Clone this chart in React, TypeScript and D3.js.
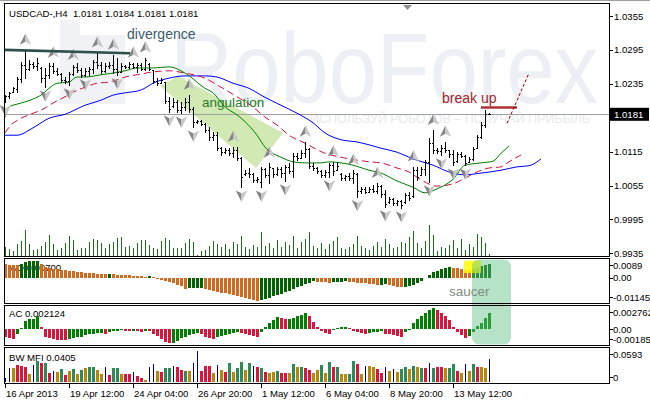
import React from "react";
import * as d3 from "d3";

// ---------- DATA ----------
const timeLabels = ["16 Apr 2013", "19 Apr 12:00", "24 Apr 04:00", "26 Apr 20:00", "1 May 12:00", "6 May 04:00", "8 May 20:00", "13 May 12:00"];
const timeLabelIdx = [0, 16, 32, 48, 64, 80, 96, 112];

const priceTicks = [1.0355, 1.0295, 1.0235, 1.0115, 1.0055, 0.9995, 0.9935];
const lastPrice = 1.0181;

// [open, high, low, close]
const ohlc: number[][] = [
  [1.0205, 1.0215, 1.0203, 1.0213], [1.0213, 1.0220, 1.0210, 1.0218], [1.0220, 1.0229, 1.0220, 1.0227], [1.0226, 1.0247, 1.0220, 1.0244], [1.0244, 1.0274, 1.0238, 1.0268],
  [1.0268, 1.0295, 1.0245, 1.0262], [1.0262, 1.0277, 1.0259, 1.0270], [1.0270, 1.0274, 1.0263, 1.0266], [1.0266, 1.0281, 1.0259, 1.0272], [1.0263, 1.0265, 1.0238, 1.0245],
  [1.0245, 1.0263, 1.0229, 1.0250], [1.0250, 1.0272, 1.0245, 1.0266], [1.0266, 1.0272, 1.0254, 1.0258], [1.0258, 1.0263, 1.0251, 1.0253], [1.0253, 1.0254, 1.0238, 1.0241],
  [1.0241, 1.0247, 1.0236, 1.0240], [1.0240, 1.0256, 1.0233, 1.0252], [1.0252, 1.0268, 1.0251, 1.0265], [1.0265, 1.0272, 1.0256, 1.0260], [1.0260, 1.0263, 1.0247, 1.0250],
  [1.0250, 1.0263, 1.0249, 1.0257], [1.0257, 1.0265, 1.0251, 1.0262], [1.0262, 1.0277, 1.0254, 1.0274], [1.0274, 1.0290, 1.0263, 1.0268], [1.0268, 1.0274, 1.0254, 1.0258],
  [1.0258, 1.0272, 1.0256, 1.0266], [1.0266, 1.0274, 1.0263, 1.0268], [1.0268, 1.0286, 1.0254, 1.0262], [1.0262, 1.0281, 1.0251, 1.0256], [1.0256, 1.0272, 1.0256, 1.0266],
  [1.0266, 1.0268, 1.0263, 1.0265], [1.0265, 1.0274, 1.0263, 1.0270], [1.0270, 1.0272, 1.0263, 1.0265], [1.0265, 1.0272, 1.0256, 1.0268], [1.0268, 1.0272, 1.0259, 1.0262],
  [1.0262, 1.0281, 1.0260, 1.0277], [1.0270, 1.0272, 1.0259, 1.0261], [1.0259, 1.0259, 1.0236, 1.0240], [1.0240, 1.0245, 1.0233, 1.0237], [1.0237, 1.0245, 1.0236, 1.0242],
  [1.0238, 1.0238, 1.0201, 1.0205], [1.0205, 1.0212, 1.0185, 1.0190], [1.0195, 1.0210, 1.0194, 1.0203], [1.0203, 1.0206, 1.0185, 1.0188], [1.0188, 1.0203, 1.0183, 1.0194],
  [1.0194, 1.0210, 1.0189, 1.0203], [1.0203, 1.0215, 1.0185, 1.0190], [1.0190, 1.0194, 1.0158, 1.0168], [1.0168, 1.0171, 1.0166, 1.0170], [1.0170, 1.0171, 1.0162, 1.0164],
  [1.0164, 1.0166, 1.0150, 1.0153], [1.0153, 1.0158, 1.0136, 1.0140], [1.0140, 1.0150, 1.0136, 1.0145], [1.0145, 1.0150, 1.0118, 1.0122], [1.0122, 1.0123, 1.0109, 1.0114],
  [1.0114, 1.0121, 1.0112, 1.0118], [1.0118, 1.0121, 1.0109, 1.0112], [1.0112, 1.0123, 1.0105, 1.0118], [1.0118, 1.0123, 1.0100, 1.0104], [1.0104, 1.0105, 1.0052, 1.0070],
  [1.0076, 1.0082, 1.0074, 1.0078], [1.0078, 1.0086, 1.0070, 1.0075], [1.0075, 1.0077, 1.0061, 1.0064], [1.0064, 1.0070, 1.0061, 1.0066], [1.0062, 1.0088, 1.0052, 1.0084],
  [1.0084, 1.0086, 1.0070, 1.0074], [1.0074, 1.0095, 1.0059, 1.0088], [1.0086, 1.0086, 1.0070, 1.0076], [1.0076, 1.0088, 1.0074, 1.0084], [1.0084, 1.0088, 1.0070, 1.0078],
  [1.0078, 1.0091, 1.0063, 1.0088], [1.0088, 1.0095, 1.0077, 1.0080], [1.0080, 1.0112, 1.0070, 1.0108], [1.0108, 1.0112, 1.0100, 1.0104], [1.0104, 1.0118, 1.0104, 1.0112],
  [1.0112, 1.0132, 1.0105, 1.0120], [1.0120, 1.0121, 1.0086, 1.0090], [1.0090, 1.0095, 1.0082, 1.0086], [1.0086, 1.0088, 1.0077, 1.0080], [1.0080, 1.0082, 1.0070, 1.0073],
  [1.0073, 1.0082, 1.0070, 1.0079], [1.0079, 1.0095, 1.0070, 1.0092], [1.0092, 1.0097, 1.0074, 1.0080], [1.0082, 1.0097, 1.0082, 1.0090], [1.0076, 1.0077, 1.0065, 1.0068],
  [1.0068, 1.0074, 1.0065, 1.0072], [1.0072, 1.0077, 1.0065, 1.0068], [1.0068, 1.0082, 1.0059, 1.0078], [1.0076, 1.0077, 1.0035, 1.0045], [1.0045, 1.0052, 1.0042, 1.0048],
  [1.0048, 1.0052, 1.0042, 1.0044], [1.0044, 1.0052, 1.0043, 1.0049], [1.0049, 1.0056, 1.0043, 1.0046], [1.0046, 1.0059, 1.0042, 1.0055], [1.0055, 1.0056, 1.0035, 1.0040],
  [1.0040, 1.0047, 1.0017, 1.0022], [1.0026, 1.0035, 1.0024, 1.0031], [1.0031, 1.0033, 1.0020, 1.0024], [1.0024, 1.0029, 1.0020, 1.0027], [1.0027, 1.0029, 1.0015, 1.0020],
  [1.0026, 1.0042, 1.0024, 1.0038], [1.0038, 1.0043, 1.0029, 1.0033], [1.0036, 1.0088, 1.0035, 1.0082], [1.0082, 1.0088, 1.0065, 1.0070], [1.0074, 1.0088, 1.0074, 1.0084],
  [1.0084, 1.0100, 1.0074, 1.0096], [1.0096, 1.0139, 1.0061, 1.0130], [1.0130, 1.0153, 1.0112, 1.0118], [1.0118, 1.0121, 1.0112, 1.0116], [1.0116, 1.0127, 1.0109, 1.0122],
  [1.0122, 1.0132, 1.0114, 1.0118], [1.0118, 1.0118, 1.0105, 1.0110], [1.0110, 1.0118, 1.0091, 1.0096], [1.0098, 1.0114, 1.0097, 1.0110], [1.0110, 1.0114, 1.0105, 1.0108],
  [1.0108, 1.0109, 1.0091, 1.0095], [1.0097, 1.0105, 1.0097, 1.0102], [1.0102, 1.0123, 1.0100, 1.0120], [1.0122, 1.0144, 1.0121, 1.0140], [1.0140, 1.0167, 1.0139, 1.0162],
  [1.0162, 1.0189, 1.0158, 1.0181], [1.0181, 1.0184, 1.0181, 1.0181],
];

const volume = [
  930, 700, 500, 1200, 1500, 2600, 1200, 600, 700, 1000,
  1400, 2100, 1200, 600, 800, 1300, 2000, 1600, 600, 800,
  800, 1400, 1700, 1600, 1300, 800, 1200, 1400, 1800, 1900,
  900, 1000, 800, 1300, 1600, 1600, 1100, 800, 700, 1500,
  1800, 1600, 800, 800, 800, 1300, 1700, 1400, 100, 500,
  600, 1000, 1500, 1200, 900, 1200, 700, 1400, 1200, 2000,
  900, 700, 1100, 900, 2400, 1000, 1300, 800, 1600, 900,
  1400, 1100, 2000, 800, 1400, 1700, 2400, 1000, 800, 1300,
  700, 1200, 1500, 1900, 800, 700, 900, 1200, 2000, 1000,
  800, 600, 1000, 1400, 900, 1700, 1200, 800, 900, 1400,
  1300, 1900, 2500, 1300, 800, 1500, 3100, 2100, 500, 900,
  800, 1100, 1600, 800, 1700, 600, 1200, 900, 2200, 1900,
  1300, 200,
];

// Alligator lines: [bar index, price]
const jaw: [number, number][] = [
  [0, 1.0144], [3, 1.0144], [7, 1.0157], [11, 1.0174], [15, 1.0181], [20, 1.0197], [24, 1.0206], [27, 1.0215], [30, 1.0219], [34, 1.0224],
  [37, 1.0236], [41, 1.0245], [45, 1.0249], [50, 1.0249], [53, 1.0247], [57, 1.0236], [61, 1.0227], [65, 1.0211], [69, 1.0197], [73, 1.0183],
  [77, 1.0166], [80, 1.0148], [84, 1.0136], [88, 1.0132], [91, 1.0127], [94, 1.0121], [98, 1.0114], [102, 1.0102], [107, 1.0091], [111, 1.0079],
  [115, 1.0074], [119, 1.0077], [124, 1.0082], [128, 1.0088], [131, 1.0090], [134, 1.0102],
];
const teeth: [number, number][] = [
  [0, 1.0148], [1, 1.0158], [4, 1.0174], [6, 1.0180], [10, 1.0192], [12, 1.0201], [15, 1.0212], [17, 1.0220], [20, 1.0229], [23, 1.0236],
  [26, 1.0238], [28, 1.0242], [30, 1.0247], [33, 1.0251], [37, 1.0256], [41, 1.0258], [45, 1.0254], [50, 1.0245], [54, 1.0229], [58, 1.0212],
  [62, 1.0194], [65, 1.0176], [68, 1.0162], [71, 1.0144], [75, 1.0130], [80, 1.0112], [84, 1.0105], [88, 1.0100], [91, 1.0097], [94, 1.0095],
  [98, 1.0086], [101, 1.0079], [104, 1.0065], [108, 1.0054], [112, 1.0058], [115, 1.0068], [118, 1.0079], [121, 1.0086], [124, 1.0088], [126, 1.0097], [129, 1.0109],
];
const lips: [number, number][] = [
  [0, 1.0176], [1, 1.0194], [3, 1.0199], [5, 1.0203], [7, 1.0208], [9, 1.0215], [11, 1.0227], [13, 1.0236], [16, 1.0238], [18, 1.0247],
  [20, 1.0247], [24, 1.0251], [27, 1.0254], [30, 1.0258], [33, 1.0263], [37, 1.0263], [41, 1.0265], [45, 1.0254], [50, 1.0227], [52, 1.0219],
  [55, 1.0194], [58, 1.0180], [60, 1.0168], [63, 1.0144], [65, 1.0123], [69, 1.0105], [72, 1.0097], [75, 1.0095], [79, 1.0095], [81, 1.0097],
  [84, 1.0095], [87, 1.0091], [91, 1.0082], [94, 1.0077], [98, 1.0063], [102, 1.0052], [105, 1.0042], [108, 1.0049], [112, 1.0066], [115, 1.0091],
  [119, 1.0095], [122, 1.0098], [124, 1.0112], [126, 1.0125],
];

const fractalUp = [5, 12, 17, 23, 27, 32, 35, 46, 57, 66, 75, 82, 87, 93, 102, 107, 110];
const fractalDown = [0, 10, 16, 20, 28, 41, 44, 47, 59, 64, 70, 81, 88, 95, 99, 106, 109, 112, 115];

const ao = [
  0.0070, 0.0068, 0.0066, 0.0065, 0.0072, 0.0079, 0.0084, 0.0088, 0.0089, 0.0072,
  0.0058, 0.0050, 0.0048, 0.0046, 0.0043, 0.0040, 0.0037, 0.0034, 0.0032, 0.0030,
  0.0027, 0.0025, 0.0023, 0.0022, 0.0021, 0.0020, 0.0021, 0.0019, 0.0017, 0.0015,
  0.0014, 0.0013, 0.0012, 0.0011, 0.0009, 0.0007, 0.0008, 0.0003, -0.0003, -0.0008,
  -0.0014, -0.0020, -0.0027, -0.0034, -0.0041, -0.0055, -0.0053, -0.0052, -0.0051, -0.0050,
  -0.0055, -0.0060, -0.0065, -0.0070, -0.0074, -0.0078, -0.0082, -0.0087, -0.0092, -0.0097,
  -0.0103, -0.0108, -0.0112, -0.01145, -0.0112, -0.0106, -0.0100, -0.0094, -0.0088, -0.0080,
  -0.0072, -0.0064, -0.0056, -0.0048, -0.0040, -0.0032, -0.0024, -0.0017, -0.0019, -0.0021,
  -0.0022, -0.0023, -0.0021, -0.0019, -0.0018, -0.0017, -0.0019, -0.0021, -0.0023, -0.0025,
  -0.0027, -0.0029, -0.0031, -0.0036, -0.0034, -0.0033, -0.0037, -0.0041, -0.0045, -0.0048,
  -0.0046, -0.0041, -0.0034, -0.0026, -0.0014, 0.0002, 0.0015, 0.0028, 0.0038, 0.0046,
  0.0052, 0.0056, 0.0053, 0.0050, 0.0046, 0.0043, 0.0041, 0.0046, 0.0053, 0.0060,
  0.0066, 0.0070,
];

const ac = [
  -0.0010, -0.0012, -0.0013, -0.0007, 0.0002, 0.0011, 0.0013, 0.0014, 0.0017, 0.0003,
  -0.0010, -0.0012, -0.0013, -0.0014, -0.0014, -0.0015, -0.0013, -0.0012, -0.0011, -0.0010,
  -0.0008, -0.0007, -0.0006, -0.0005, -0.0005, -0.0006, -0.0004, -0.0003, -0.0002, -0.0001,
  -0.0002, -0.0003, -0.0002, -0.0003, -0.0004, -0.0002, -0.0003, -0.0006, -0.0009, -0.0013,
  -0.0017, -0.00185, -0.0018, -0.0016, -0.0012, -0.0010, -0.0008, -0.0006, -0.0005, -0.0007,
  -0.0010, -0.0012, -0.0013, -0.0011, -0.0009, -0.0008, -0.0006, -0.0005, -0.0004, -0.0005,
  -0.0007, -0.0008, -0.0009, -0.0010, -0.0004, 0.0003, 0.0008, 0.0012, 0.0016, 0.0015,
  0.0013, 0.0014, 0.0015, 0.0017, 0.0019, 0.0022, 0.0017, 0.0010, 0.0003, -0.0002,
  -0.0005, -0.0007, 0.0000, 0.0002, 0.0003, 0.0003, 0.0001, -0.0002, -0.0004, -0.0005,
  -0.0006, -0.0005, -0.0004, -0.0004, -0.0003, -0.0006, -0.0007, -0.0008, -0.0009, -0.0010,
  -0.0004, 0.0000, 0.0008, 0.0013, 0.0018, 0.0022, 0.0026, 0.002762, 0.0026, 0.0022,
  0.0017, 0.0012, 0.0003, -0.0004, -0.0008, -0.0012, -0.0009, -0.0004, 0.0004, 0.0008,
  0.0015, 0.002124,
];

const mfi = [
  0.0066, 0.0246, 0.0246, 0.0306, 0.0294, 0.0276, 0.0144, 0.0306, 0.0378, 0.0336,
  0.0347, 0.0156, 0.0204, 0.0186, 0.0240, 0.0126, 0.0204, 0.0234, 0.0144, 0.0216,
  0.0246, 0.0276, 0.0264, 0.0216, 0.0144, 0.0276, 0.0126, 0.0258, 0.0246, 0.0144,
  0.0144, 0.0144, 0.0180, 0.0108, 0.0078, 0.0036, 0.0276, 0.0318, 0.0198, 0.0186,
  0.0258, 0.0258, 0.0288, 0.0264, 0.0216, 0.0198, 0.0198, 0.0336, 0.0558, 0.0198,
  0.0288, 0.0288, 0.0156, 0.0306, 0.0216, 0.0186, 0.0347, 0.0186, 0.0246, 0.0365,
  0.0216, 0.0336, 0.0288, 0.0276, 0.0246, 0.0186, 0.0168, 0.0186, 0.0198, 0.0168,
  0.0168, 0.0168, 0.0318, 0.0264, 0.0276, 0.0258, 0.0216, 0.0156, 0.0216, 0.0306,
  0.0156, 0.0353, 0.0264, 0.0264, 0.0144, 0.0144, 0.0144, 0.0378, 0.0318, 0.0144,
  0.0288, 0.0288, 0.0276, 0.0234, 0.0168, 0.0264, 0.0204, 0.0228, 0.0174, 0.0234,
  0.0264, 0.0234, 0.0288, 0.0276, 0.0258, 0.0258, 0.0336, 0.0246, 0.0264, 0.0264,
  0.0246, 0.0246, 0.0318, 0.0204, 0.0156, 0.0318, 0.0204, 0.0318, 0.0276, 0.0264,
  0.0246, 0.0405,
];
// g = green, f = fade (brown), k = fake (blue), s = squat (pink)
const mfiZones =
  "kkfsssfkgs" + "gskfgsfgfg" + "fggffksggf" + "sskssfkkfs" + "ggkssgfkks" + "ssfkfsgfgg" +
  "fgksgsffgs" + "sfgfgssffg" + "fgsgffggsf" + "kffsskfkfg" + "gfgfgskgss" + "fggsfkfgsf" + "fk";

// ---------- LAYOUT ----------
const W = 650, H = 403;
const PL = 4.5, PR = 609.5;
const MAIN = { top: 3.5, bottom: 256.5 };
const AOP = { top: 258.5, bottom: 303.5 };
const ACP = { top: 305.5, bottom: 345.5 };
const MFP = { top: 347.5, bottom: 383.5 };
const FONT = "'Liberation Sans', Arial, sans-serif";

const C = {
  jaw: "#0000ff", teeth: "#d0103a", lips: "#008000",
  vol: "#1f6b1f", aoUp: "#006400", aoDn: "#d2691e",
  acUp: "#008000", acDn: "#dc143c",
  mG: "#2e8b57", mF: "#b8860b", mK: "#000080", mS: "#dc143c",
};

function upFlags(vals: number[]) {
  const out: boolean[] = [];
  vals.forEach((v, i) => {
    if (i === 0) out.push(false);
    else out.push(v > vals[i - 1] ? true : v < vals[i - 1] ? false : out[i - 1]);
  });
  return out;
}

function Arrow({ x, y, up }: { x: number; y: number; up: boolean }) {
  const s = up ? 1 : -1;
  return (
    <g transform={`translate(${x},${y}) scale(1.15,${1.15 * s})`}>
      <path d="M0,-5 L0,2.5 L-5,5 Z" fill="#858585" />
      <path d="M0,-5 L5,5 L0,2.5 Z" fill="#c8c8c8" />
    </g>
  );
}

export default function App() {
  const n = ohlc.length;
  const x = d3.scaleLinear().domain([0, n - 1]).range([5, 489]);
  const y = d3.scaleLinear().domain([0.9935, 1.0355]).range([253.3, 16]);
  const yVol = d3.scaleLinear().domain([0, 3000]).range([256, 226]);
  const yAO = d3.scaleLinear().domain([-0.01145, 0.0089]).range([300.5, 260.5]);
  const yAC = d3.scaleLinear().domain([-0.00185, 0.002762]).range([342.9, 308.3]);
  const yMF = d3.scaleLinear().domain([0, 0.0593]).range([382, 349]);

  const line = d3.line<[number, number]>().x((d) => x(d[0])).y((d) => y(d[1])).curve(d3.curveMonotoneX);
  const aoUp = upFlags(ao);
  const acUp = upFlags(ac);
  const cx = (i: number) => Math.round(x(i)) + 0.5;
  const ry = (v: number) => Math.round(y(v)) + 0.5;

  const sideLabel = (v: number, sc: d3.ScaleLinear<number, number>, p: { top: number; bottom: number }) =>
    Math.max(p.top + 6.5, Math.min(p.bottom - 6.5, sc(v)));
  const fmt = (v: number, d: number) => v.toFixed(d);

  const panelRect = (p: { top: number; bottom: number }, k: string) => (
    <rect key={k} x={PL} y={p.top} width={PR - PL} height={p.bottom - p.top} fill="none" stroke="#000" strokeWidth={1} />
  );

  // annotation geometry in data space
  const angulation: [number, number][] = [[38.75, 1.0231], [43.25, 1.0249], [69.5, 1.0148], [62.75, 1.0086]];
  const divergence: [number, number][] = [[-0.25, 1.0295], [31.25, 1.0289]];
  const breakUp: [number, number][] = [[119, 1.0193], [128, 1.0193]];
  const trendUp: [number, number][] = [[125.5, 1.0165], [131, 1.0254]];

  return (
    <svg width={W} height={H} style={{ position: "absolute", left: 0, top: 0, background: "#fff" }} fontFamily={FONT}>
      <defs>
        <clipPath id="mainClip"><rect x={PL} y={MAIN.top} width={PR - PL} height={MAIN.bottom - MAIN.top} /></clipPath>
      </defs>
      <rect x={0} y={0} width={W} height={H} fill="#fff" />
      <line x1={0} x2={W} y1={0.5} y2={0.5} stroke="#a0a0a0" />

      {/* watermark */}
      <g clipPath="url(#mainClip)">
        <rect x={60} y={20} width={20} height={84} fill="#f0f2f6" />
        <rect x={80} y={35} width={45} height={69} fill="#f0f2f6" />
        <text x={170} y={103} fontSize={100} fill="#eceff3" textLength={428} lengthAdjust="spacingAndGlyphs">RoboForex</text>
        <text x={310} y={123} fontSize={12.5} fill="#e6e9ee" textLength={280} lengthAdjust="spacingAndGlyphs">ИСПОЛЬЗУЙ РОБОТОВ – ПОЛУЧАЙ ПРИБЫЛЬ</text>
      </g>

      {/* angulation band */}
      <polygon points={angulation.map((d) => `${x(d[0])},${y(d[1])}`).join(" ")} fill="#d3e9b4" />

      {/* bid line */}
      <line x1={PL} x2={PR} y1={ry(lastPrice)} y2={ry(lastPrice)} stroke="#a0a0a0" />

      {/* volumes */}
      <g shapeRendering="crispEdges">
        {volume.map((v, i) => (
          <line key={i} x1={cx(i)} x2={cx(i)} y1={yVol(0)} y2={yVol(v)} stroke={C.vol} />
        ))}
      </g>

      {/* alligator */}
      <g clipPath="url(#mainClip)" fill="none">
        <path d={line(jaw) || ""} stroke={C.jaw} strokeWidth={1} />
        <path d={line(teeth) || ""} stroke={C.teeth} strokeWidth={1} strokeDasharray="7,4" />
        <path d={line(lips) || ""} stroke={C.lips} strokeWidth={1} />
      </g>

      {/* fractals */}
      {fractalUp.map((i) => <Arrow key={"u" + i} x={x(i) + 0.5} y={y(ohlc[i][1]) - 11} up={true} />)}
      {fractalDown.map((i) => <Arrow key={"d" + i} x={x(i) + 0.5} y={y(ohlc[i][2]) + 9} up={false} />)}

      {/* bars */}
      <g shapeRendering="crispEdges" stroke="#000" strokeWidth={1}>
        {ohlc.map((b, i) => {
          const xx = cx(i);
          return (
            <g key={i}>
              <line x1={xx} x2={xx} y1={Math.round(y(b[1]))} y2={Math.round(y(b[2])) + 1} />
              <line x1={xx - 1.5} x2={xx} y1={ry(b[0])} y2={ry(b[0])} />
              <line x1={xx} x2={xx + 1.5} y1={ry(b[3])} y2={ry(b[3])} />
            </g>
          );
        })}
      </g>

      {/* annotations */}
      <line x1={x(divergence[0][0])} y1={y(divergence[0][1])} x2={x(divergence[1][0])} y2={y(divergence[1][1])} stroke="#2f4f4f" strokeWidth={2.6} />
      <text x={x(30.5)} y={y(1.0314)} fontSize={14} fill="#3d5a6b">divergence</text>
      <text x={x(49.25)} y={y(1.0194)} fontSize={13.5} fill="#267a26">angulation</text>
      <text x={x(109.25)} y={y(1.0201)} fontSize={14} fill="#a0282a">break up</text>
      <line x1={x(breakUp[0][0])} x2={x(breakUp[1][0])} y1={y(breakUp[0][1])} y2={y(breakUp[1][1])} stroke="#b03030" strokeWidth={2.5} />
      <line x1={x(trendUp[0][0])} x2={x(trendUp[1][0])} y1={y(trendUp[0][1])} y2={y(trendUp[1][1])} stroke="#8b0000" strokeWidth={1} strokeDasharray="3,2" />

      {/* top shift marker */}
      <path d="M403,5 L412,5 L407.5,10 Z" fill="#909090" />

      <text x={9} y={17} fontSize={9.6} fill="#000" style={{ whiteSpace: "pre" }}>{"USDCAD-,H4  1.0181 1.0184 1.0181 1.0181"}</text>

      {/* ---- AO ---- */}
      <text x={10} y={271} fontSize={9.6} fill="#000">AO 0.00700</text>
      <g shapeRendering="crispEdges">
        {ao.map((v, i) => (
          <rect key={i} x={Math.round(x(i)) - 1} width={3} y={Math.min(yAO(0), yAO(v))} height={Math.abs(yAO(v) - yAO(0))} fill={aoUp[i] ? C.aoUp : C.aoDn} />
        ))}
      </g>

      {/* ---- AC ---- */}
      <text x={9} y={317} fontSize={9.6} fill="#000">AC 0.002124</text>
      <g shapeRendering="crispEdges">
        {ac.map((v, i) => (
          <rect key={i} x={Math.round(x(i)) - 1} width={3} y={Math.min(yAC(0), yAC(v))} height={Math.max(0.8, Math.abs(yAC(v) - yAC(0)))} fill={acUp[i] ? C.acUp : C.acDn} />
        ))}
      </g>

      {/* ---- MFI ---- */}
      <text x={9} y={361} fontSize={9.6} fill="#000">BW MFI 0.0405</text>
      <g shapeRendering="crispEdges">
        {mfi.map((v, i) => {
          const z = mfiZones[i];
          if (z === "k") return <line key={i} x1={cx(i)} x2={cx(i)} y1={yMF(0)} y2={yMF(v)} stroke={C.mK} />;
          const col = z === "g" ? C.mG : z === "f" ? C.mF : C.mS;
          return <rect key={i} x={Math.round(x(i)) - 1} width={3} y={yMF(v)} height={yMF(0) - yMF(v)} fill={col} />;
        })}
      </g>

      {/* highlights */}
      <rect x={x(114.75)} width={x(119) - x(114.75)} y={yAO(0.0088)} height={yAO(0.0025) - yAO(0.0088)} fill="#ffff00" opacity={0.85} />
      <rect x={x(116.75)} width={x(126.5) - x(116.75)} y={259.5} height={85} rx={7} fill="#5ec283" opacity={0.45} />
      <text x={x(111)} y={yAO(-0.0092)} fontSize={13.5} fill="#7f8c80">saucer</text>

      {/* panel frames */}
      {panelRect(MAIN, "m")}
      {panelRect(AOP, "a")}
      {panelRect(ACP, "c")}
      {panelRect(MFP, "f")}

      {/* right axes */}
      <g fontSize={9.6} fill="#000">
        {priceTicks.map((v) => (
          <g key={v}>
            <line x1={PR} x2={PR + 3.5} y1={ry(v)} y2={ry(v)} stroke="#000" />
            <text x={614} y={y(v) + 3.5}>{fmt(v, 4)}</text>
          </g>
        ))}
        <rect x={610} y={y(lastPrice) - 6.5} width={39} height={13} fill="#000" />
        <text x={614} y={y(lastPrice) + 3.5} fill="#fff">{fmt(lastPrice, 4)}</text>

        {[[0.0089, "0.0089"], [0, "0.00"], [-0.01145, "-0.01145"]].map(([v, t]) => {
          const yy = sideLabel(v as number, yAO, AOP);
          return (
            <g key={"ao" + t}>
              <line x1={PR} x2={PR + 3.5} y1={Math.round(yy) + 0.5} y2={Math.round(yy) + 0.5} stroke="#000" />
              <text x={613} y={yy + 3.5}>{t}</text>
            </g>
          );
        })}
        {[[0.002762, "0.002762"], [0, "0.00"], [-0.00185, "-0.00185"]].map(([v, t]) => {
          const yy = sideLabel(v as number, yAC, ACP);
          return (
            <g key={"ac" + t}>
              <line x1={PR} x2={PR + 3.5} y1={Math.round(yy) + 0.5} y2={Math.round(yy) + 0.5} stroke="#000" />
              <text x={613} y={yy + 3.5}>{t}</text>
            </g>
          );
        })}
        {[[0.0593, "0.0593"], [0, "0"]].map(([v, t]) => {
          const yy = sideLabel(v as number, yMF, MFP);
          return (
            <g key={"mf" + t}>
              <line x1={PR} x2={PR + 3.5} y1={Math.round(yy) + 0.5} y2={Math.round(yy) + 0.5} stroke="#000" />
              <text x={613} y={yy + 3.5}>{t}</text>
            </g>
          );
        })}
      </g>

      {/* time axis */}
      <g fontSize={9.6} fill="#000">
        {timeLabelIdx.map((idx, k) => (
          <g key={k}>
            <line x1={cx(idx)} x2={cx(idx)} y1={383.5} y2={388} stroke="#000" />
            <text x={x(idx) + 1} y={397}>{timeLabels[k]}</text>
          </g>
        ))}
      </g>
    </svg>
  );
}
